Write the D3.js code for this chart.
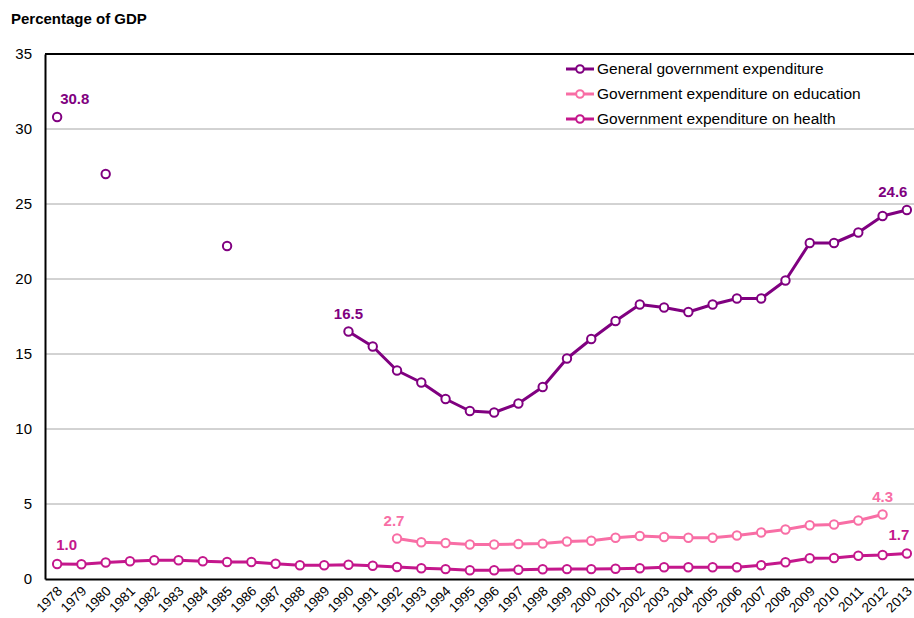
<!DOCTYPE html>
<html><head><meta charset="utf-8">
<script src="https://cdn.jsdelivr.net/npm/d3@7"></script>
<style>body{margin:0;background:#fff;} svg{display:block;font-family:"Liberation Sans",Arial,sans-serif;}</style>
</head><body><svg id="c" width="914" height="618"></svg>
<script>
const years = d3.range(1978, 2014).map(String);
const general = [30.8,null,27.0,null,null,null,null,22.2,null,null,null,null,16.5,15.5,13.9,13.1,12.0,11.2,11.1,11.7,12.8,14.7,16.0,17.2,18.3,18.1,17.8,18.3,18.7,18.7,19.9,22.4,22.4,23.1,24.2,24.6];
const education = [null,null,null,null,null,null,null,null,null,null,null,null,null,null,2.7,2.45,2.4,2.3,2.3,2.33,2.36,2.5,2.55,2.75,2.87,2.8,2.75,2.75,2.9,3.1,3.3,3.58,3.63,3.9,4.3,null];
const health = [1.0,0.98,1.1,1.18,1.25,1.25,1.18,1.13,1.13,1.02,0.92,0.92,0.95,0.88,0.8,0.72,0.66,0.58,0.58,0.62,0.65,0.66,0.66,0.68,0.72,0.78,0.78,0.78,0.78,0.92,1.12,1.38,1.4,1.55,1.6,1.7];
const yTicks = [0,5,10,15,20,25,30,35];
const seriesNames = ["General government expenditure","Government expenditure on education","Government expenditure on health"];
const colors = ["#800080","#f86ea5","#c4178c"];
const labels = [
  {s:0, i:0, text:"30.8", dx:3, dy:-13, anchor:"start"},
  {s:0, i:12, text:"16.5", dx:0, dy:-13, anchor:"middle"},
  {s:0, i:35, text:"24.6", dx:-14, dy:-13, anchor:"middle"},
  {s:1, i:14, text:"2.7", dx:-3, dy:-13, anchor:"middle"},
  {s:1, i:34, text:"4.3", dx:0, dy:-13, anchor:"middle"},
  {s:2, i:0, text:"1.0", dx:-1, dy:-14, anchor:"start"},
  {s:2, i:35, text:"1.7", dx:-8, dy:-14, anchor:"middle"}
];

const svg = d3.select("#c");
const m = {left:45, top:54, right:-5, bottom:39};
const W = 914, H = 618;
const x = d3.scaleBand().domain(years).range([m.left, W - m.right]).paddingInner(0).paddingOuter(0);
const cx = d => x(d) + x.bandwidth()/2;
const y = d3.scaleLinear().domain([0,35]).range([H - m.bottom, m.top]);

// gridlines
svg.append("g").selectAll("line").data(yTicks.filter(t=>t>0 && t<35)).join("line")
  .attr("x1", m.left).attr("x2", W).attr("y1", d=>y(d)).attr("y2", d=>y(d))
  .attr("stroke","#a6a6a6").attr("stroke-width",1);
// top border
svg.append("line").attr("x1", m.left).attr("x2", W).attr("y1", y(35)).attr("y2", y(35)).attr("stroke","#000").attr("stroke-width",2);

// y axis
const yAxis = svg.append("g").attr("transform",`translate(${m.left},0)`)
  .call(d3.axisLeft(y).tickValues(yTicks).tickSize(0).tickPadding(13));
yAxis.select(".domain").attr("stroke","#000").attr("stroke-width",2);
yAxis.selectAll("text").attr("font-size",15).attr("fill","#000").attr("font-family","Liberation Sans, Arial, sans-serif");

// x axis
const xAxis = svg.append("g").attr("transform",`translate(0,${y(0)})`)
  .call(d3.axisBottom(x).tickSize(0).tickPadding(0));
xAxis.select(".domain").attr("stroke","#000").attr("stroke-width",2);
xAxis.selectAll("text").attr("font-size",13.5).attr("fill","#000").attr("font-family","Liberation Sans, Arial, sans-serif")
  .attr("text-anchor","end").attr("dy",null)
  .attr("transform","translate(6,13) rotate(-45)");

// title
svg.append("text").attr("x",11).attr("y",24).attr("font-size",15).attr("font-weight","bold").text("Percentage of GDP");

const data = [general, education, health];
const line = d3.line().defined(d=>d.v!=null).x(d=>cx(d.year)).y(d=>y(d.v));
data.forEach((arr, s) => {
  const pts = arr.map((v,i)=>({year:years[i], v}));
  svg.append("path").datum(pts).attr("d", line).attr("fill","none")
    .attr("stroke", colors[s]).attr("stroke-width",3).attr("stroke-linejoin","round");
  svg.append("g").selectAll("circle").data(pts.filter(p=>p.v!=null)).join("circle")
    .attr("cx", d=>cx(d.year)).attr("cy", d=>y(d.v)).attr("r",4.2)
    .attr("fill","#fff").attr("stroke", colors[s]).attr("stroke-width",2);
});

// data labels
svg.append("g").selectAll("text").data(labels).join("text")
  .attr("x", d=>cx(years[d.i]) + d.dx).attr("y", d=>y(data[d.s][d.i]) + d.dy)
  .attr("text-anchor", d=>d.anchor).attr("font-size",15).attr("font-weight","bold")
  .attr("fill", d=>colors[d.s]).text(d=>d.text);

// legend
const lg = svg.append("g").attr("transform","translate(566,69)");
seriesNames.forEach((n,i)=>{
  const g = lg.append("g").attr("transform",`translate(0,${i*25})`);
  g.append("line").attr("x1",0).attr("x2",28).attr("y1",0).attr("y2",0).attr("stroke",colors[i]).attr("stroke-width",3);
  g.append("circle").attr("cx",14).attr("cy",0).attr("r",3.8).attr("fill","#fff").attr("stroke",colors[i]).attr("stroke-width",2);
  g.append("text").attr("x",31).attr("y",5).attr("font-size",15.5).attr("fill","#000").text(n);
});
</script></body></html>
